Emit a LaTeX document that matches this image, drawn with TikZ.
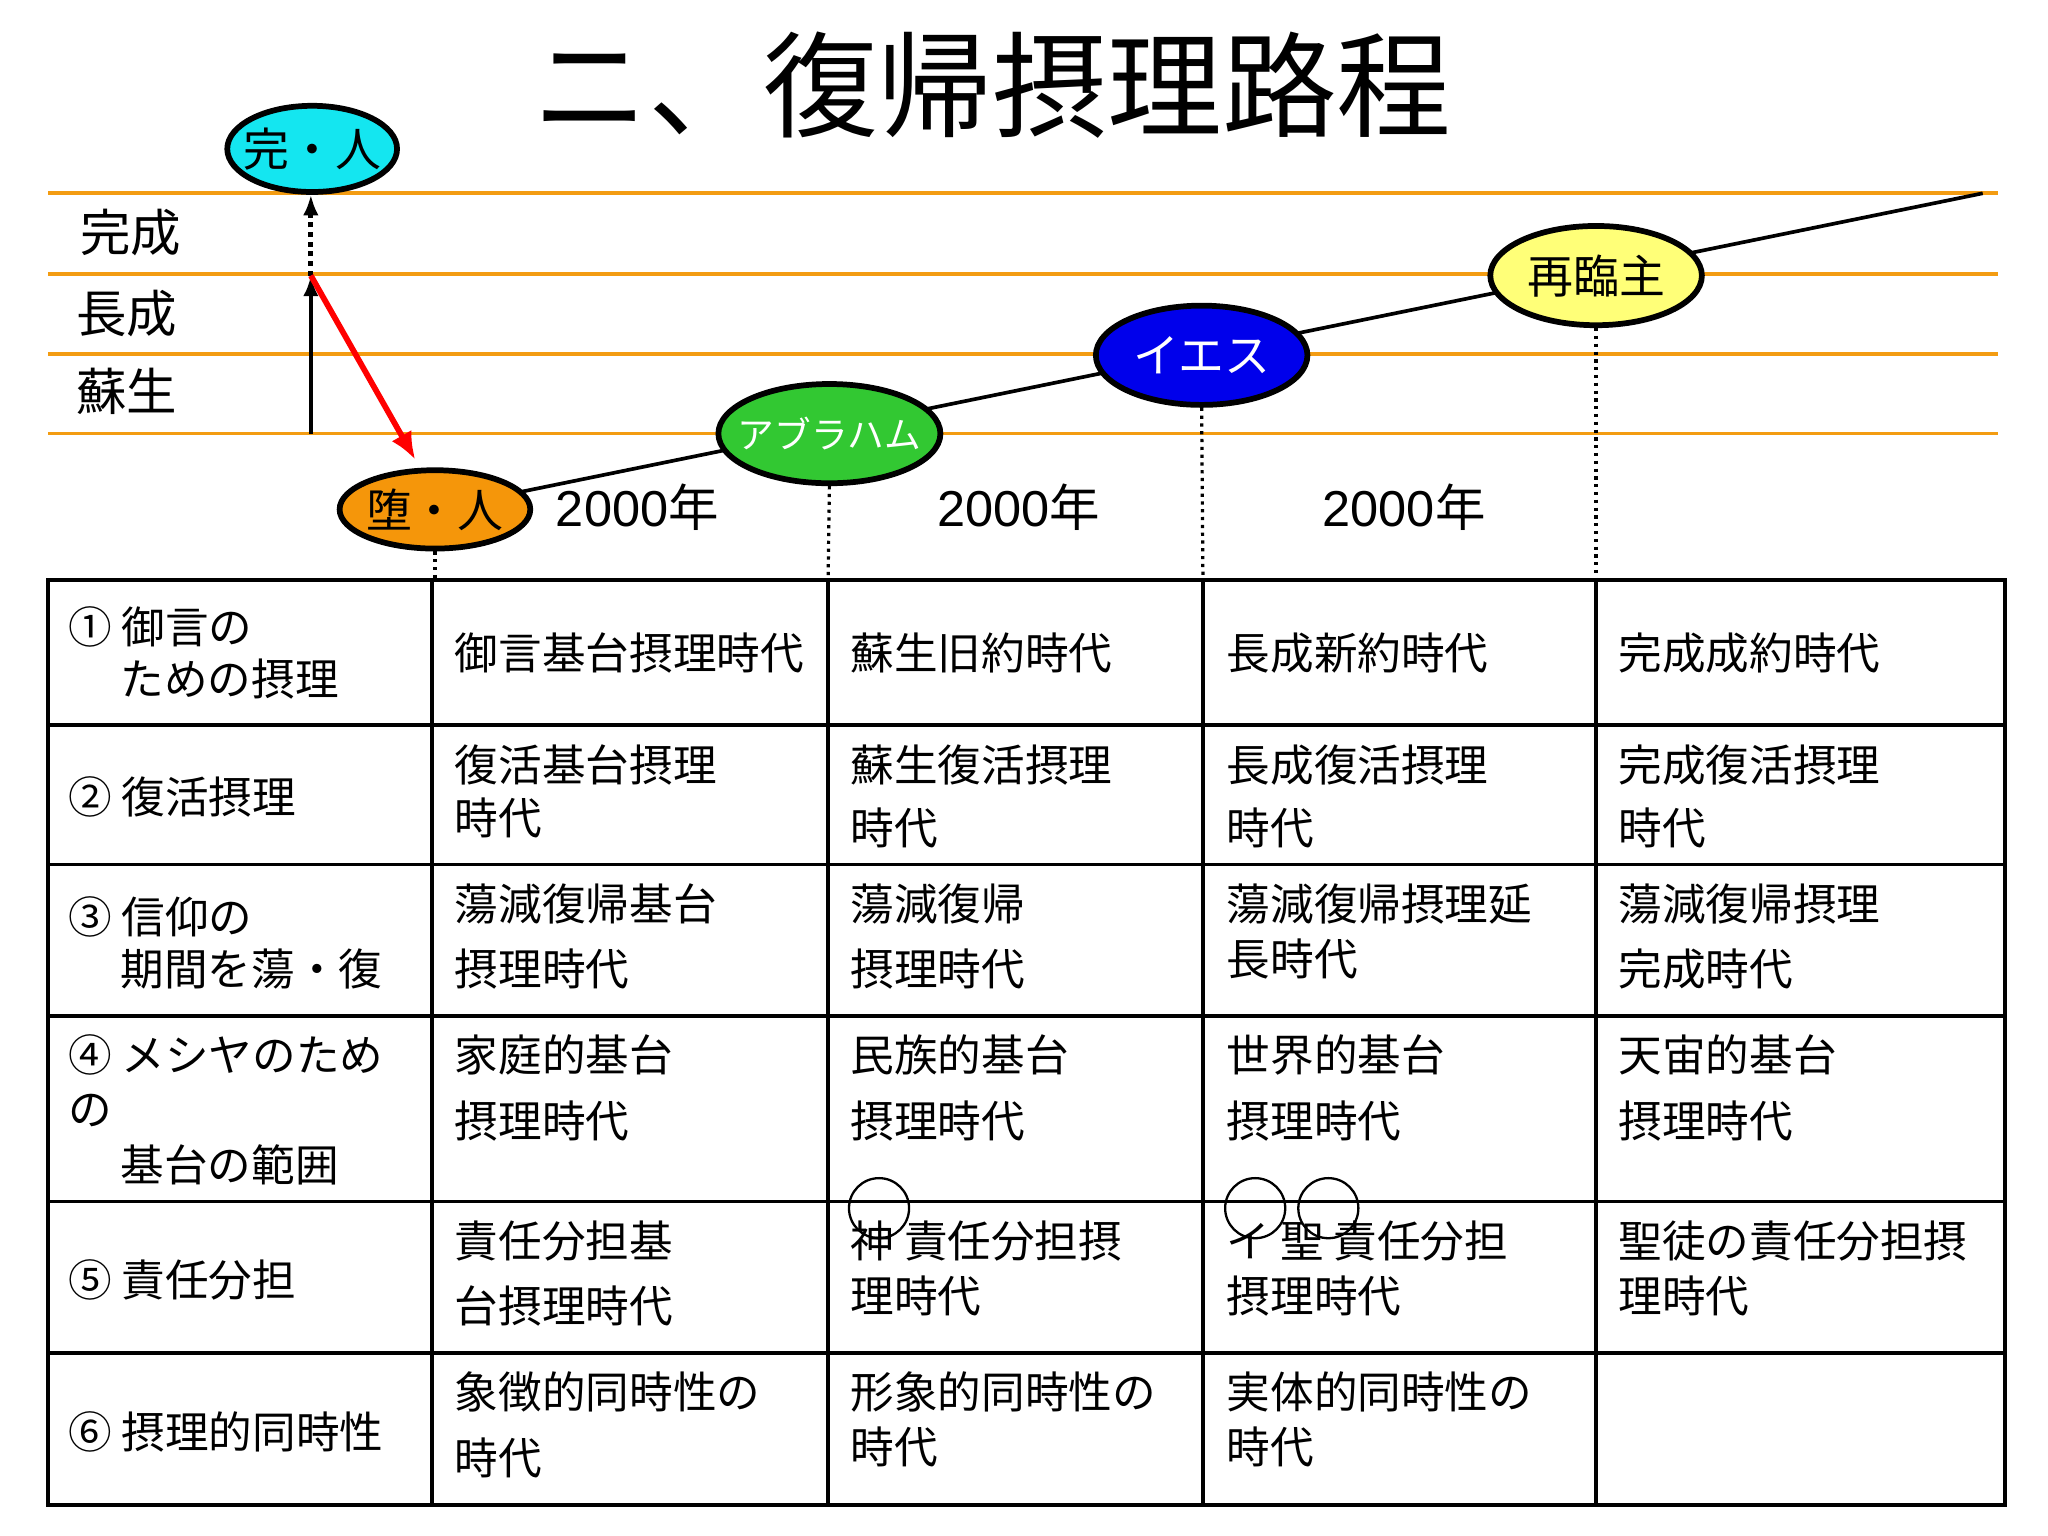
\documentclass[tikz,border=0pt]{standalone}
\usepackage{fontspec}
\setmainfont{Noto Sans CJK JP}
\newfontfamily\lat{Liberation Sans}
\usetikzlibrary{shapes.geometric,arrows.meta}
\definecolor{org}{RGB}{243,156,18}
\definecolor{orgfill}{RGB}{245,150,10}
\definecolor{cyanfill}{RGB}{20,230,240}
\newcounter{cc}
\newcommand{\ct}[3]{\stepcounter{cc}\node[celltxt] (t\thecc) at (#1,#2) {#3};}
\begin{document}
\begin{tikzpicture}[x=0.02cm,y=-0.02cm,
  celltxt/.style={anchor=west,inner sep=0pt,font=\fontsize{19}{22}\selectfont},
  hline/.style={org,line width=1.6pt},
  oval/.style={ellipse,draw=black,line width=2.5pt,inner xsep=-9pt,inner ysep=-4pt,font=\fontsize{19}{22}\selectfont},
  dots/.style={line width=1.4pt,dotted},
  grid/.style={line width=1.6pt},
  yr/.style={font=\fontsize{22}{24}\selectfont}]
\useasboundingbox (0,0) rectangle (1568,1176);
\node (title) at (760,65) {\fontsize{50}{55}\selectfont ニ、復帰摂理路程};
% level lines
\foreach \y/\n in {148/a,210/b,271/c,332/d}{\draw[hline] (37,\y) coordinate (l\n) -- (1530,\y) coordinate (r\n);}
\node[font=\fontsize{22}{24}\selectfont] (k1) at (100,178) {完成};
\node[font=\fontsize{22}{24}\selectfont] (k2) at (97,240) {長成};
\node[font=\fontsize{22}{24}\selectfont] (k3) at (97,300) {蘇生};
% main line
\coordinate (e0) at (333,390);
\coordinate (e1) at (1518,148);
\draw[line width=1.6pt] (e0) -- (e1);
\coordinate (p0) at (238,332);
\coordinate (p1) at (238,211);
\coordinate (p2) at (238,149);
\draw[line width=1.8pt,-{Latex[length=9pt]}] (p0) -- (p1);
\draw[line width=2.2pt,dotted,-{Latex[length=9pt]}] (p1) -- (p2);
\draw[red,line width=2.5pt,-{Latex[length=12pt,width=10pt]}] (p1) -- (318,352) coordinate (p3);
% ovals
\node[oval,fill=cyanfill,minimum height=66*0.02cm,minimum width=130*0.02cm,font=\fontsize{20}{22}\selectfont] (kan) at (239,114) {完・人};
\node[oval,fill=orgfill,minimum width=146*0.02cm,minimum height=60*0.02cm,font=\fontsize{20}{22}\selectfont] (da) at (333,390) {堕・人};
\node[oval,fill={rgb,255:red,50;green,200;blue,50},minimum width=170*0.02cm,minimum height=76*0.02cm,text=white,font=\fontsize{16}{18}\selectfont] (ab) at (635,332) {アブラハム};
\node[oval,fill={rgb,255:red,0;green,0;blue,235},minimum width=162*0.02cm,minimum height=76*0.02cm,text=white,font=\fontsize{20}{22}\selectfont] (ie) at (920,272) {イエス};
\node[oval,fill={rgb,255:red,255;green,255;blue,120},minimum width=162*0.02cm,minimum height=76*0.02cm,font=\fontsize{20}{22}\selectfont] (sa) at (1222,211) {再臨主};
% dotted drops
\coordinate (d0) at (333,444);\coordinate (d1) at (634,444);\coordinate (d2) at (921,444);\coordinate (d3) at (1222,444);
\draw[dots] (da.south) -- (d0);
\draw[dots] (ab.south) -- (d1);
\draw[dots] (ie.south) -- (d2);
\draw[dots] (sa.south) -- (d3);
\node[yr] (y1) at (488,388) {{\lat 2000}年};
\node[yr] (y2) at (780,388) {{\lat 2000}年};
\node[yr] (y3) at (1075,388) {{\lat 2000}年};
% table
\draw[grid] (37,444) rectangle (1535,1152);
\foreach \y in {555,662,778,920,1036}{\draw[grid] (37,\y) -- (1535,\y);}
\foreach \x in {331,634,921,1222}{\draw[grid] (\x,444) -- (\x,1152);}
% row 1
\ct{52}{480}{① 御言の}
\ct{92}{520}{ための摂理}
\ct{348}{500}{御言基台摂理時代}
\ct{651}{500}{蘇生旧約時代}
\ct{939}{500}{長成新約時代}
\ct{1239}{500}{完成成約時代}
% row 2
\ct{52}{610}{② 復活摂理}
\ct{348}{586}{復活基台摂理}
\ct{348}{626}{時代}
\ct{651}{586}{蘇生復活摂理}
\ct{651}{634}{時代}
\ct{939}{586}{長成復活摂理}
\ct{939}{634}{時代}
\ct{1239}{586}{完成復活摂理}
\ct{1239}{634}{時代}
% row 3
\ct{52}{702}{③ 信仰の}
\ct{92}{742}{期間を蕩・復}
\ct{348}{692}{蕩減復帰基台}
\ct{348}{742}{摂理時代}
\ct{651}{692}{蕩減復帰}
\ct{651}{742}{摂理時代}
\ct{939}{692}{蕩減復帰摂理延}
\ct{939}{734}{長時代}
\ct{1239}{692}{蕩減復帰摂理}
\ct{1239}{742}{完成時代}
% row 4
\ct{52}{808}{④ メシヤのため}
\ct{52}{850}{の}
\ct{92}{892}{基台の範囲}
\ct{348}{808}{家庭的基台}
\ct{348}{858}{摂理時代}
\ct{651}{808}{民族的基台}
\ct{651}{858}{摂理時代}
\ct{939}{808}{世界的基台}
\ct{939}{858}{摂理時代}
\ct{1239}{808}{天宙的基台}
\ct{1239}{858}{摂理時代}
% row 5
\ct{52}{980}{⑤ 責任分担}
\ct{348}{950}{責任分担基}
\ct{348}{1000}{台摂理時代}
\ct{651}{950}{神 責任分担摂}
\ct{651}{992}{理時代}
\ct{939}{950}{イ 聖 責任分担}
\ct{939}{992}{摂理時代}
\ct{1239}{950}{聖徒の責任分担摂}
\ct{1239}{992}{理時代}
\node[circle,draw,line width=1pt,minimum size=46*0.02cm] (c1) at (673,925) {};
\node[circle,draw,line width=1pt,minimum size=46*0.02cm] (c2) at (961,925) {};
\node[circle,draw,line width=1pt,minimum size=46*0.02cm] (c3) at (1017,925) {};
% row 6
\ct{52}{1096}{⑥ 摂理的同時性}
\ct{348}{1066}{象徴的同時性の}
\ct{348}{1116}{時代}
\ct{651}{1066}{形象的同時性の}
\ct{651}{1108}{時代}
\ct{939}{1066}{実体的同時性の}
\ct{939}{1108}{時代}
\end{tikzpicture}
\end{document}
